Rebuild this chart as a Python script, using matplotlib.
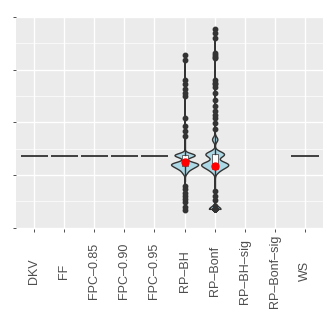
"""Violin comparison of methods"""

import numpy as np
import matplotlib
matplotlib.use("Agg")
import matplotlib.pyplot as plt

# Categories on the x axis
categories = ["DKV", "FF", "FPC\u20130.85", "FPC\u20130.90", "FPC\u20130.95",
              "RP\u2013BH", "RP\u2013Bonf", "RP\u2013BH\u2013sig", "RP\u2013Bonf\u2013sig", "WS"]

# Methods whose values are all identical (drawn as a flat line)
flat_categories = ["DKV", "FF", "FPC\u20130.85", "FPC\u20130.90", "FPC\u20130.95", "WS"]
flat_values = [1.37, 1.37, 1.37, 1.37, 1.37, 1.37]

# RP-BH observed values and how often each occurs
rp_bh_values = [3.28, 3.19, 2.81, 2.72, 2.64, 2.56, 2.50, 2.09, 1.93, 1.84, 1.74, 1.69, 1.65,
                1.38, 1.30, 1.22, 1.17, 1.12, 1.05,
                0.96, 0.89, 0.80, 0.74, 0.67, 0.61, 0.55, 0.49, 0.39, 0.33]
rp_bh_counts = [1, 1, 1, 1, 1, 1, 1, 1, 1, 1, 1, 1, 1,
                200, 20, 200, 120, 80, 40,
                1, 1, 1, 1, 1, 1, 1, 1, 1, 1]

# RP-Bonf observed values and how often each occurs
rp_bonf_values = [3.77, 3.69, 3.60, 3.31, 3.28, 3.25, 3.22, 2.81, 2.75, 2.72, 2.68, 2.56,
                  2.43, 2.31, 2.21, 2.15, 2.09, 1.99, 1.87, 1.77, 1.68,
                  1.44, 1.40, 1.36, 1.30, 1.22, 1.17, 1.12, 1.06,
                  0.92, 0.83, 0.77, 0.70, 0.61, 0.52, 0.42, 0.36]
rp_bonf_counts = [1, 1, 1, 1, 1, 1, 1, 1, 1, 1, 1, 1,
                  1, 1, 1, 1, 1, 1, 1, 1, 60,
                  40, 150, 40, 30, 200, 120, 80, 40,
                  1, 1, 1, 1, 1, 1, 1, 130]

dist_categories = ["RP\u2013BH", "RP\u2013Bonf"]
dist_values = [rp_bh_values, rp_bonf_values]
dist_counts = [rp_bh_counts, rp_bonf_counts]

plt.rcParams['font.family'] = ['Liberation Sans', 'DejaVu Sans']

DARK = "#333333"

def nrd0(d):
    # same rule of thumb bandwidth as R's density()
    sd = np.std(d, ddof=1)
    q75, q25 = np.percentile(d, [75, 25])
    lo = min(sd, (q75 - q25) / 1.34)
    return 0.9 * lo * len(d) ** -0.2

fig = plt.figure(figsize=(3.27, 3.27), dpi=100)
ax = fig.add_axes([0.049, 0.300, 0.939, 0.648])
ax.set_facecolor("#EBEBEB")

# grid
for v in [0.5, 1.5, 2.5, 3.5]:
    ax.axhline(v, color="white", lw=0.5, zorder=0)
for v in [0, 1, 2, 3, 4]:
    ax.axhline(v, color="white", lw=1.0, zorder=0)
for i in range(len(categories)):
    ax.axvline(i, color="white", lw=1.0, zorder=0)

# flat methods
for cat, val in zip(flat_categories, flat_values):
    i = categories.index(cat)
    ax.hlines(val, i - 0.45, i + 0.45, color=DARK, lw=1.3, zorder=2)

# violins + boxplots + means
for cat, vals, cnts in zip(dist_categories, dist_values, dist_counts):
    i = categories.index(cat)
    d = np.repeat(vals, cnts)
    factor = nrd0(d) / np.std(d, ddof=1)
    vp = ax.violinplot([d], positions=[i], widths=0.9, showextrema=False,
                       bw_method=factor, points=2000)
    for body in vp['bodies']:
        body.set_facecolor("#ADD8E6")
        body.set_edgecolor(DARK)
        body.set_linewidth(1.0)
        body.set_alpha(1)
        body.set_zorder(2)
    ax.boxplot([d], positions=[i], widths=0.2, patch_artist=True, manage_ticks=False,
               showcaps=False, zorder=3,
               boxprops=dict(facecolor="white", edgecolor=DARK, linewidth=0.5),
               medianprops=dict(color=DARK, linewidth=1.0),
               whiskerprops=dict(color=DARK, linewidth=1.0),
               flierprops=dict(marker="o", markerfacecolor=DARK, markeredgecolor=DARK,
                               markersize=3.2))
    ax.plot(i, np.mean(d), "o", color="red", markersize=5, zorder=5)

ax.set_xlim(-0.6, 9.6)
ax.set_ylim(-0.02, 4.0)
ax.set_yticks([0, 1, 2, 3, 4])
ax.set_yticklabels([])
ax.set_xticks(range(len(categories)))
ax.set_xticklabels(categories, rotation=90, fontsize=9, color="#4D4D4D",
                   ha="center", va="center")
ax.tick_params(axis="both", length=2.5, width=0.6, color=DARK)
ax.tick_params(axis="x", pad=28)
for s in ax.spines.values():
    s.set_visible(False)

fig.savefig("out.png", dpi=100)
